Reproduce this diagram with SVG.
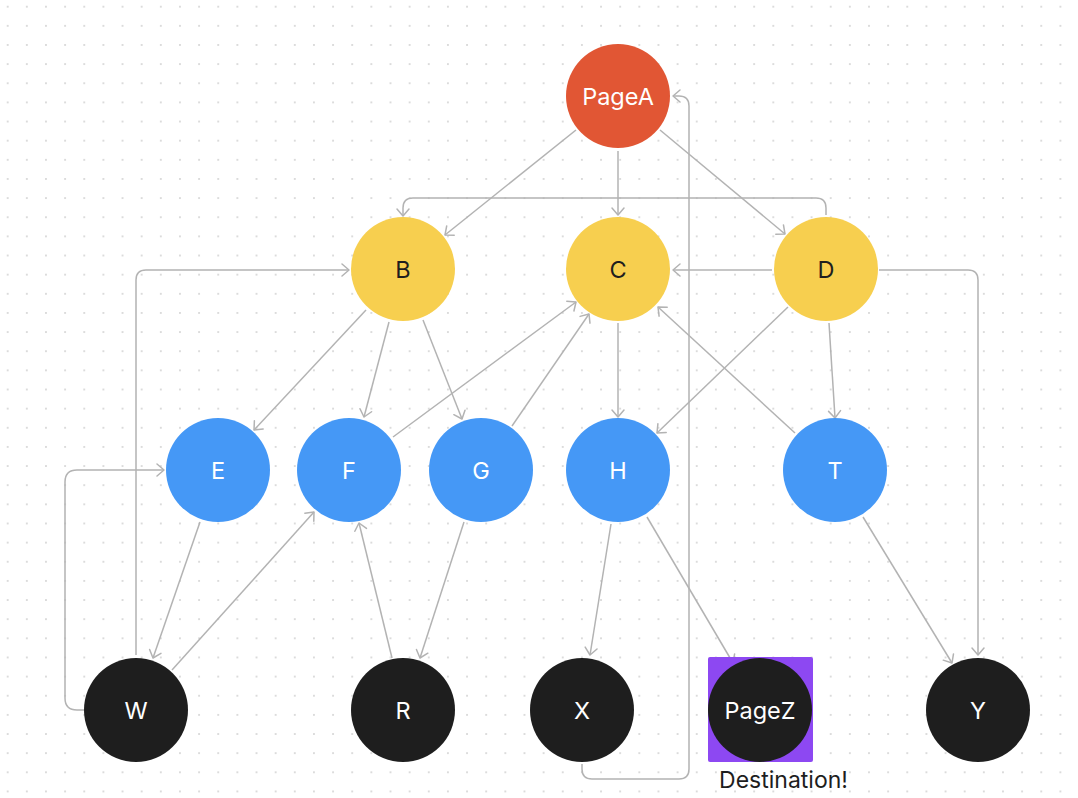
<svg xmlns="http://www.w3.org/2000/svg" width="1078" height="798" viewBox="0 0 1078 798">
  <defs>
    <pattern id="dots" patternUnits="userSpaceOnUse" x="-1.87" y="-2.87" width="19.14" height="19.14">
      <circle cx="9.57" cy="9.57" r="1" fill="#d2d2d2"/>
    </pattern>
    <marker id="arr" markerUnits="userSpaceOnUse" markerWidth="20" markerHeight="20" viewBox="-10 -10 20 20" refX="0" refY="0" orient="auto">
      <path d="M-7,-6 L0,0 L-7,6" fill="none" stroke="#b3b3b3" stroke-width="1.5" stroke-linecap="round" stroke-linejoin="round"/>
    </marker>
  </defs>
  <style>
    .edge { fill: none; stroke: #b3b3b3; stroke-width: 1.5; marker-end: url(#arr); }
    .lbl { font-family: Inter, "Noto Sans", "Liberation Sans", sans-serif; font-size: 23.5px; text-anchor: middle; }
    .dest { font-size: 23px; }
    .lw { fill: #ffffff; }
    .lk { fill: #1e1e1e; }
    .red { fill: #e15634; }
    .yel { fill: #f7cf4f; }
    .blu { fill: #4598f6; }
    .blk { fill: #1e1e1e; }
  </style>
  <rect width="1078" height="798" fill="#ffffff"/>
  <rect width="1078" height="798" fill="url(#dots)"/>

  <g id="connectors">
    <line class="edge" x1="576" y1="130" x2="445" y2="235"/>
    <line class="edge" x1="618" y1="151" x2="618" y2="215"/>
    <line class="edge" x1="660" y1="130" x2="785" y2="234"/>
    <path class="edge" d="M826,215 L826,208 Q826,198 816,198 L413,198 Q403,198 403,208 L403,216"/>
    <line class="edge" x1="772" y1="270" x2="673" y2="270"/>
    <path class="edge" d="M582,764 L582,769 Q582,779 592,779 L679,779 Q689,779 689,769 L689,106 Q689,96 679,96 L673,96"/>
    <path class="edge" d="M136,655 L136,280 Q136,270 146,270 L349,270"/>
    <path class="edge" d="M84,710 L77,710 Q65,710 65,698 L65,482 Q65,470 77,470 L164,470"/>
    <line class="edge" x1="366" y1="310" x2="254" y2="430"/>
    <line class="edge" x1="389" y1="322" x2="364" y2="417"/>
    <line class="edge" x1="423" y1="320" x2="462" y2="419"/>
    <line class="edge" x1="393" y1="437" x2="576" y2="302"/>
    <line class="edge" x1="512" y1="426" x2="589" y2="314"/>
    <line class="edge" x1="618" y1="323" x2="618" y2="417"/>
    <line class="edge" x1="788" y1="307" x2="657" y2="433"/>
    <line class="edge" x1="795" y1="433" x2="658" y2="307"/>
    <line class="edge" x1="829" y1="323" x2="835" y2="418"/>
    <path class="edge" d="M879,270 L968,270 Q978,270 978,280 L978,655"/>
    <line class="edge" x1="200" y1="522" x2="153" y2="658"/>
    <line class="edge" x1="172" y1="670" x2="314" y2="512"/>
    <line class="edge" x1="392" y1="658" x2="359" y2="523"/>
    <line class="edge" x1="464" y1="522" x2="420" y2="658"/>
    <line class="edge" x1="611" y1="524" x2="590" y2="655"/>
    <line class="edge" x1="647" y1="517" x2="733" y2="663"/>
    <line class="edge" x1="863" y1="517" x2="952" y2="663"/>
  </g>

  <g id="node-PageA"><circle class="red" cx="618" cy="96" r="52"/><text class="lbl lw" x="618" y="104.5">PageA</text></g>
  <g id="node-B"><circle class="yel" cx="403" cy="269" r="52"/><text class="lbl lk" x="403" y="277.5">B</text></g>
  <g id="node-C"><circle class="yel" cx="618" cy="269" r="52"/><text class="lbl lk" x="618" y="277.5">C</text></g>
  <g id="node-D"><circle class="yel" cx="826" cy="269" r="52"/><text class="lbl lk" x="826" y="277.5">D</text></g>
  <g id="node-E"><circle class="blu" cx="218" cy="470" r="52"/><text class="lbl lw" x="218" y="478.5">E</text></g>
  <g id="node-F"><circle class="blu" cx="349" cy="470" r="52"/><text class="lbl lw" x="349" y="478.5">F</text></g>
  <g id="node-G"><circle class="blu" cx="481" cy="470" r="52"/><text class="lbl lw" x="481" y="478.5">G</text></g>
  <g id="node-H"><circle class="blu" cx="618" cy="470" r="52"/><text class="lbl lw" x="618" y="478.5">H</text></g>
  <g id="node-T"><circle class="blu" cx="835" cy="470" r="52"/><text class="lbl lw" x="835" y="478.5">T</text></g>
  <g id="node-W"><circle class="blk" cx="136" cy="710" r="52"/><text class="lbl lw" x="136" y="718.5">W</text></g>
  <g id="node-R"><circle class="blk" cx="403" cy="710" r="52"/><text class="lbl lw" x="403" y="718.5">R</text></g>
  <g id="node-X"><circle class="blk" cx="582" cy="710" r="52"/><text class="lbl lw" x="582" y="718.5">X</text></g>
  <g id="node-PageZ">
    <rect x="708" y="657" width="105" height="105" rx="2" fill="#8d48f2"/>
    <circle class="blk" cx="760" cy="710" r="52"/>
    <text class="lbl lw" x="760" y="718.5">PageZ</text>
    <text class="lbl dest lk" x="783.5" y="788">Destination!</text>
  </g>
  <g id="node-Y"><circle class="blk" cx="978" cy="710" r="52"/><text class="lbl lw" x="978" y="718.5">Y</text></g>
</svg>
